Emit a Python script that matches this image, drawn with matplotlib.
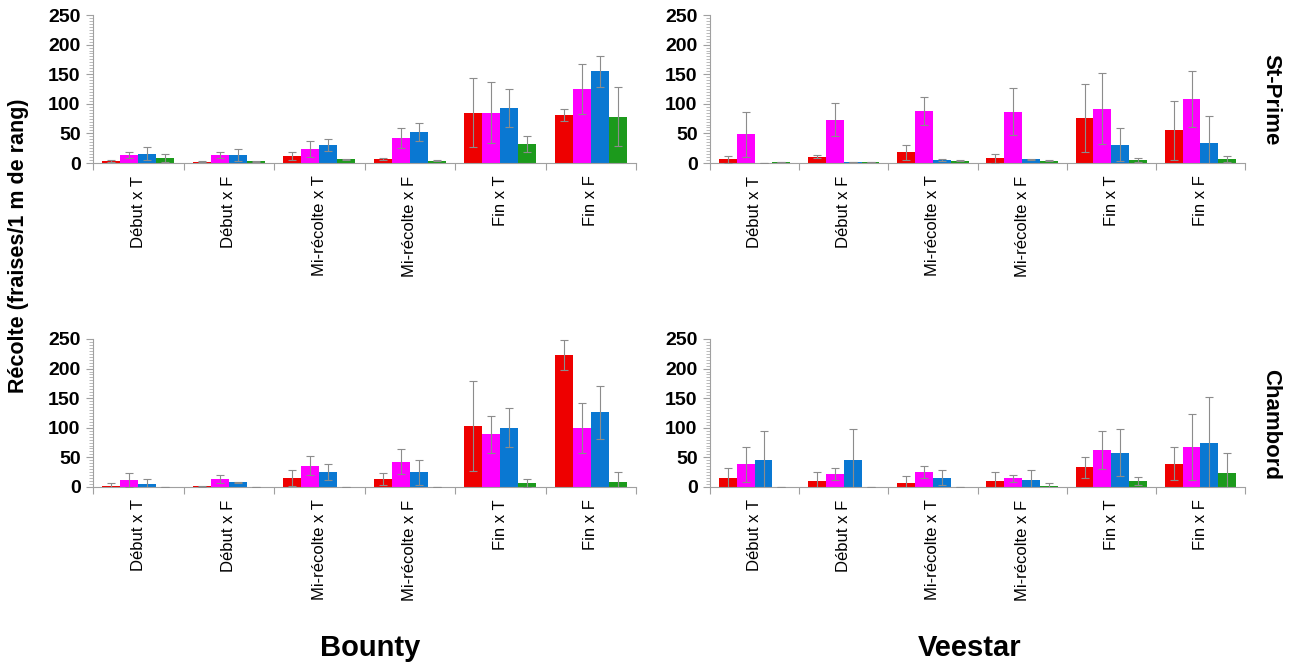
import matplotlib
matplotlib.use("Agg")
from matplotlib import pyplot as plt
from matplotlib.ticker import MultipleLocator, FixedLocator
import numpy as np

plt.rcParams['font.family'] = ['Liberation Sans', 'DejaVu Sans']

categories = ["Début x T", "Début x F", "Mi-récolte x T", "Mi-récolte x F", "Fin x T", "Fin x F"]
couleurs = ["#ee0000", "#ff00ff", "#0a78d2", "#1c9a1c"]

# St-Prime / Bounty
sp_bounty = [
    [3, 2, 12, 7, 85, 81],
    [14, 14, 24, 42, 85, 125],
    [16, 13, 31, 52, 93, 155],
    [8, 3, 6, 4, 32, 78],
]
sp_bounty_err = [
    [2, 1, 7, 2, 58, 10],
    [5, 5, 13, 17, 52, 43],
    [11, 10, 10, 15, 32, 26],
    [7, 1, 1, 1, 14, 50],
]

# St-Prime / Veestar
sp_veestar = [
    [6, 11, 18, 8, 76, 55],
    [49, 73, 88, 87, 92, 108],
    [0.5, 1, 5, 6, 31, 34],
    [1, 1.5, 4, 4, 5, 7],
]
sp_veestar_err = [
    [6, 2, 13, 8, 57, 50],
    [38, 28, 24, 39, 60, 47],
    [0, 0, 1, 1, 28, 46],
    [0, 0, 1, 1, 4, 5],
]

# Chambord / Bounty
ch_bounty = [
    [2, 1, 15, 14, 103, 223],
    [12, 13, 36, 43, 89, 100],
    [5, 8, 25, 25, 100, 126],
    [0.5, 0.5, 0.5, 0.5, 7, 9],
]
ch_bounty_err = [
    [5, 1, 13, 10, 76, 25],
    [12, 7, 16, 21, 31, 42],
    [9, 1, 13, 21, 33, 45],
    [0, 0, 0, 0, 7, 16],
]

# Chambord / Veestar
ch_veestar = [
    [15, 10, 7, 10, 33, 39],
    [38, 22, 25, 15, 63, 68],
    [45, 46, 16, 12, 58, 75],
    [0.5, 0.5, 0.5, 2, 10, 24],
]
ch_veestar_err = [
    [17, 15, 11, 15, 17, 28],
    [29, 10, 10, 6, 32, 56],
    [50, 52, 12, 16, 40, 77],
    [0, 0, 0, 5, 7, 33],
]


def dessinerPanneau(ax, valeurs, erreurs):
    x = np.arange(len(categories))
    largeur = 0.2
    for i, (serie, err) in enumerate(zip(valeurs, erreurs)):
        pos = x + (i - 1.5) * largeur
        ax.bar(pos, serie, largeur, color=couleurs[i], linewidth=0, zorder=2)
        ax.errorbar(pos, serie, yerr=err, fmt="none", ecolor="#8c8c8c",
                    elinewidth=0.8, capsize=3, capthick=0.8, zorder=3)
    ax.set_xlim(-0.5, len(categories) - 0.5)
    ax.set_ylim(0, 250)
    ax.yaxis.set_major_locator(MultipleLocator(50))
    ax.yaxis.set_minor_locator(MultipleLocator(5))
    ax.set_xticks(x)
    ax.set_xticklabels(categories, rotation=90, fontsize=12)
    ax.xaxis.set_minor_locator(FixedLocator(np.arange(-0.5, len(categories), 1.0)))
    ax.tick_params(axis="x", which="major", length=0, pad=9)
    ax.tick_params(axis="x", which="minor", length=5, color="#a0a0a0", width=0.8)
    ax.tick_params(axis="y", which="major", length=5, color="#a0a0a0", width=0.8,
                   labelsize=14, pad=4)
    ax.tick_params(axis="y", which="minor", length=3, color="#b0b0b0", width=0.6)
    for lab in ax.get_yticklabels():
        lab.set_fontweight("bold")
    for cote in ["top", "right"]:
        ax.spines[cote].set_visible(False)
    for cote in ["left", "bottom"]:
        ax.spines[cote].set_color("#a0a0a0")
        ax.spines[cote].set_linewidth(0.8)


fig = plt.figure(figsize=(13.03, 6.67), dpi=100)

ax1 = fig.add_axes([0.0714, 0.7556, 0.4167, 0.2219])
ax2 = fig.add_axes([0.5449, 0.7556, 0.4106, 0.2219])
ax3 = fig.add_axes([0.0714, 0.2699, 0.4167, 0.2219])
ax4 = fig.add_axes([0.5449, 0.2699, 0.4106, 0.2219])

dessinerPanneau(ax1, sp_bounty, sp_bounty_err)
dessinerPanneau(ax2, sp_veestar, sp_veestar_err)
dessinerPanneau(ax3, ch_bounty, ch_bounty_err)
dessinerPanneau(ax4, ch_veestar, ch_veestar_err)

fig.text(0.014, 0.631, "Récolte (fraises/1 m de rang)", rotation=90,
         ha="center", va="center", fontsize=15.5, fontweight="bold")
fig.text(0.975, 0.85, "St-Prime", rotation=-90, ha="center", va="center",
         fontsize=16, fontweight="bold")
fig.text(0.975, 0.363, "Chambord", rotation=-90, ha="center", va="center",
         fontsize=16, fontweight="bold")
fig.text(0.284, 0.0285, "Bounty", ha="center", va="center",
         fontsize=21, fontweight="bold")
fig.text(0.744, 0.0285, "Veestar", ha="center", va="center",
         fontsize=21, fontweight="bold")

plt.savefig("out.png", dpi=100)
plt.close()
